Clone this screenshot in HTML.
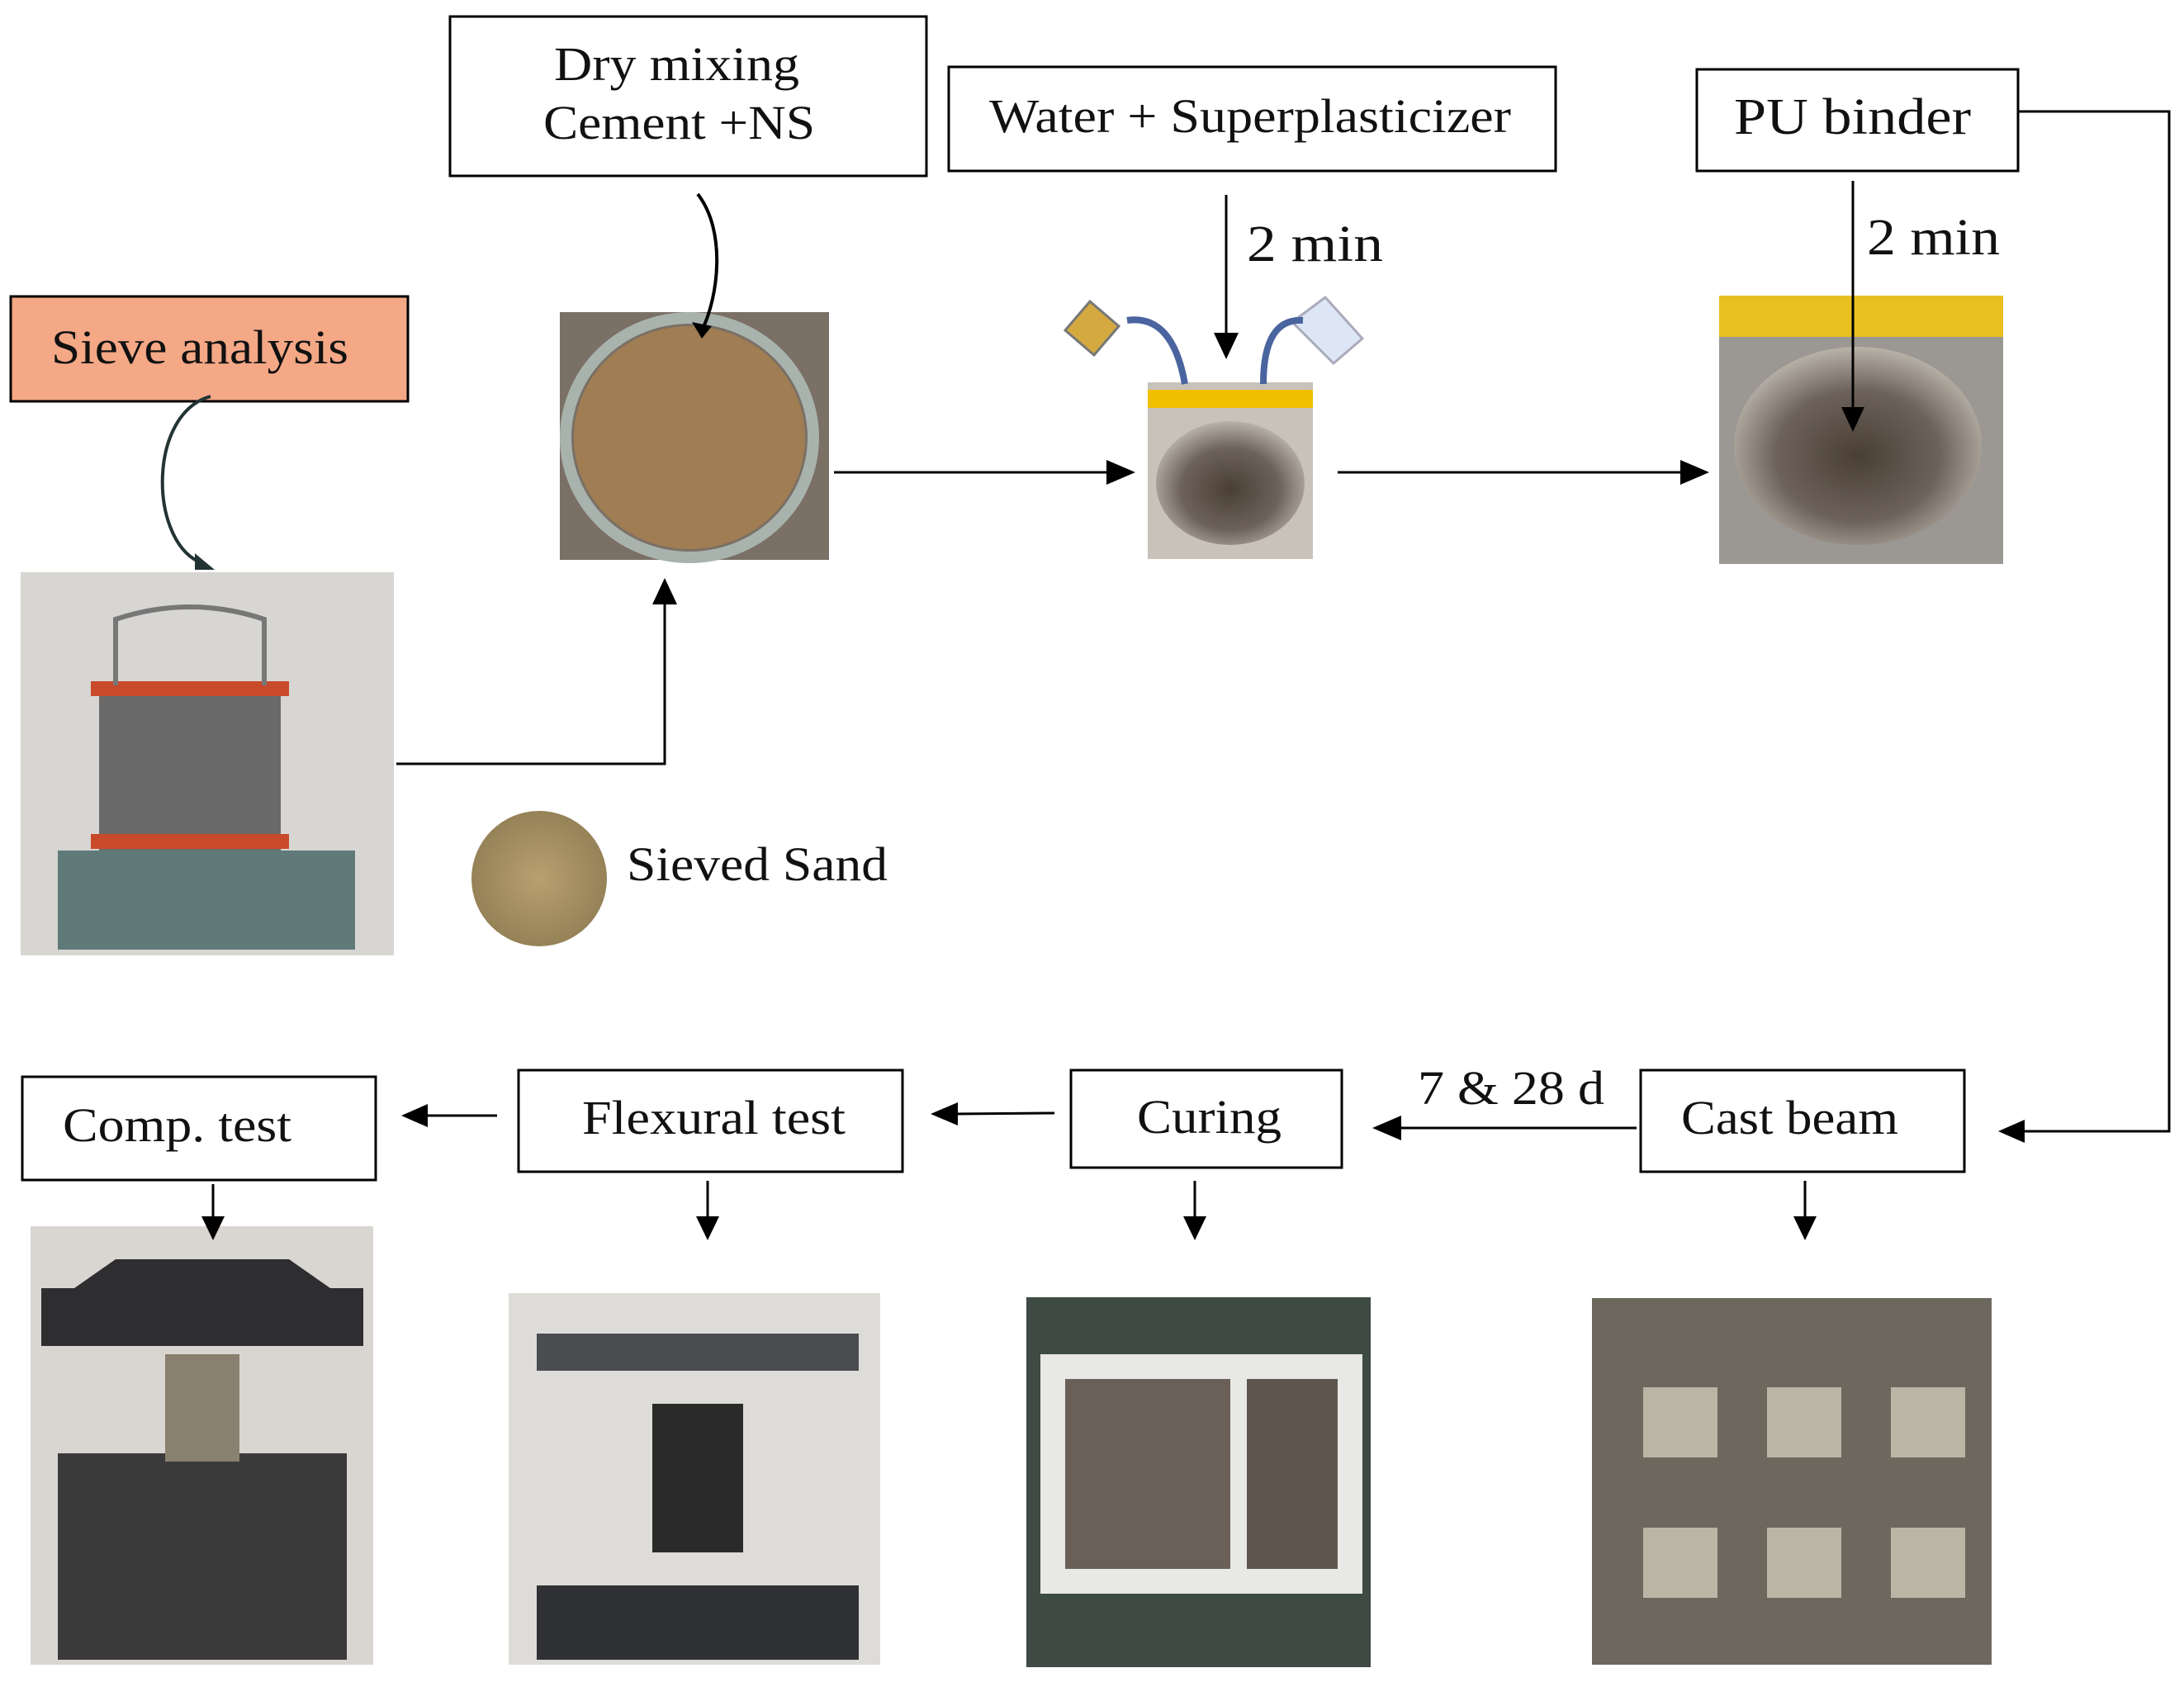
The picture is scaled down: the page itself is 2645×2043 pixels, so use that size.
<!DOCTYPE html>
<html><head><meta charset="utf-8"><style>
html,body{margin:0;padding:0;background:#fff;width:2645px;height:2043px;overflow:hidden}
svg{display:block}
text{font-family:"Liberation Serif",serif;fill:#111}
</style></head><body>
<svg width="2645" height="2043" viewBox="0 0 2645 2043" xmlns="http://www.w3.org/2000/svg">
<defs>
<radialGradient id="bowl" cx="50%" cy="55%" r="55%"><stop offset="0" stop-color="#4a3f35"/><stop offset="0.6" stop-color="#6d625a"/><stop offset="1" stop-color="#b8b2a8"/></radialGradient>
<radialGradient id="sand" cx="50%" cy="50%" r="60%"><stop offset="0" stop-color="#b8a070"/><stop offset="1" stop-color="#8f7c52"/></radialGradient>
</defs>
<g fill="none" stroke="#000" stroke-width="3">
<rect x="13" y="359" width="481" height="127" fill="#f4a886"/>
<rect x="545" y="20" width="577" height="193" fill="#fff"/>
<rect x="1149" y="81" width="735" height="126" fill="#fff"/>
<rect x="2055" y="84" width="389" height="123" fill="#fff"/>
<rect x="27" y="1304" width="428" height="125" fill="#fff"/>
<rect x="628" y="1296" width="465" height="123" fill="#fff"/>
<rect x="1297" y="1296" width="328" height="118" fill="#fff"/>
<rect x="1987" y="1296" width="392" height="123" fill="#fff"/>
</g>
<rect x="25" y="693" width="452" height="464" fill="#d8d6d2"/>
<rect x="70" y="1030" width="360" height="120" fill="#5f7a78"/>
<rect x="120" y="830" width="220" height="200" fill="#6a6a6a"/>
<rect x="110" y="825" width="240" height="18" fill="#c84a2a"/>
<rect x="110" y="1010" width="240" height="18" fill="#c84a2a"/>
<path d="M140 830 L140 750 Q230 720 320 750 L320 830" fill="none" stroke="#777" stroke-width="6"/>
<rect x="678" y="378" width="326" height="300" fill="#7a7066"/>
<ellipse cx="835" cy="530" rx="140" ry="135" fill="#a07d52"/>
<ellipse cx="835" cy="530" rx="150" ry="145" fill="none" stroke="#a9b3ad" stroke-width="14"/>
<rect x="1390" y="463" width="200" height="214" fill="#c9c2ba"/>
<rect x="1390" y="472" width="200" height="22" fill="#f0c000"/>
<ellipse cx="1490" cy="585" rx="90" ry="75" fill="url(#bowl)"/>
<!-- pouring icons -->
<path d="M1290 400 L1320 365 L1355 395 L1325 430Z" fill="#d4aa40" stroke="#777" stroke-width="3"/>
<path d="M1565 390 L1605 360 L1650 410 L1615 440Z" fill="#dde6f4" stroke="#aab" stroke-width="3"/>
<path d="M1365 388 Q1420 380 1435 465" fill="none" stroke="#4a64a0" stroke-width="8"/>
<path d="M1578 388 Q1530 385 1530 465" fill="none" stroke="#4a64a0" stroke-width="8"/>
<rect x="2082" y="358" width="344" height="325" fill="#9b9893"/>
<rect x="2082" y="358" width="344" height="50" fill="#e8c020"/>
<ellipse cx="2250" cy="540" rx="150" ry="120" fill="url(#bowl)"/>
<ellipse cx="653" cy="1064" rx="82" ry="82" fill="url(#sand)"/>
<rect x="37" y="1485" width="415" height="531" fill="#d9d6d2"/>
<rect x="50" y="1560" width="390" height="70" fill="#2e2e30"/>
<path d="M90 1560 L140 1525 L350 1525 L400 1560Z" fill="#2e2e30"/>
<rect x="70" y="1760" width="350" height="250" fill="#3a3a3a"/>
<rect x="200" y="1640" width="90" height="130" fill="#8a8070"/>
<rect x="616" y="1566" width="450" height="450" fill="#dedcd8"/>
<rect x="650" y="1615" width="390" height="45" fill="#4a4c50"/>
<rect x="650" y="1920" width="390" height="90" fill="#2f3135"/>
<rect x="790" y="1700" width="110" height="180" fill="#2a2a2a"/>
<rect x="1243" y="1571" width="417" height="448" fill="#3e4a44"/>
<rect x="1260" y="1640" width="390" height="290" fill="#e8e8e6"/>
<rect x="1290" y="1670" width="200" height="230" fill="#6a6058"/>
<rect x="1510" y="1670" width="110" height="230" fill="#5e564e"/>
<rect x="1928" y="1572" width="484" height="444" fill="#6c685e"/>
<g fill="#bbb5a5"><rect x="1990" y="1680" width="90" height="85"/><rect x="2140" y="1680" width="90" height="85"/><rect x="2290" y="1680" width="90" height="85"/><rect x="1990" y="1850" width="90" height="85"/><rect x="2140" y="1850" width="90" height="85"/><rect x="2290" y="1850" width="90" height="85"/></g>
<g fill="none" stroke="#000" stroke-width="3">
<polyline points="480,925 805,925 805,730"/>
<line x1="1010" y1="572" x2="1345" y2="572"/>
<line x1="1620" y1="572" x2="2040" y2="572"/>
<line x1="1485" y1="236" x2="1485" y2="405"/>
<line x1="2244" y1="219" x2="2244" y2="495"/>
<polyline points="2444,135 2627,135 2627,1370 2450,1370"/>
<line x1="1982" y1="1366" x2="1695" y2="1366"/>
<line x1="1277" y1="1348" x2="1155" y2="1349"/>
<line x1="602" y1="1351" x2="515" y2="1351"/>
<line x1="258" y1="1434" x2="258" y2="1475"/>
<line x1="857" y1="1430" x2="857" y2="1475"/>
<line x1="1447" y1="1430" x2="1447" y2="1475"/>
<line x1="2186" y1="1430" x2="2186" y2="1475"/>
<path d="M845 235 C880 280 870 360 850 400" stroke-width="4"/>
<path d="M255 480 C180 500 180 650 240 680" stroke="#233" stroke-width="4"/>
</g>
<g fill="#000">
<path d="M805 700 L790 732 L820 732Z"/>
<path d="M1375 572 L1340 557 L1340 587Z"/>
<path d="M2070 572 L2035 557 L2035 587Z"/>
<path d="M1485 435 L1470 403 L1500 403Z"/>
<path d="M2244 523 L2230 493 L2258 493Z"/>
<path d="M2420 1370 L2452 1356 L2452 1384Z"/>
<path d="M1662 1366 L1697 1351 L1697 1381Z"/>
<path d="M1127 1349 L1160 1335 L1160 1363Z"/>
<path d="M486 1351 L518 1337 L518 1365Z"/>
<path d="M258 1502 L244 1473 L272 1473Z"/>
<path d="M857 1502 L843 1473 L871 1473Z"/>
<path d="M1447 1502 L1433 1473 L1461 1473Z"/>
<path d="M2186 1502 L2172 1473 L2200 1473Z"/>
<path d="M850 410 L838 390 L862 395Z"/>
<path d="M260 690 L236 670 L236 690Z" fill="#233"/>
</g>
<g font-size="58" lengthAdjust="spacingAndGlyphs">
<text x="62" y="440" textLength="360" lengthAdjust="spacingAndGlyphs">Sieve analysis</text>
<text x="671" y="97" textLength="297" lengthAdjust="spacingAndGlyphs">Dry mixing</text>
<text x="658" y="168" textLength="329" lengthAdjust="spacingAndGlyphs">Cement +NS</text>
<text x="1198" y="160" textLength="632" lengthAdjust="spacingAndGlyphs">Water + Superplasticizer</text>
<text x="2100" y="162" font-size="62" textLength="287" lengthAdjust="spacingAndGlyphs">PU binder</text>
<text x="1510" y="316" font-size="62" textLength="165" lengthAdjust="spacingAndGlyphs">2 min</text>
<text x="2261" y="308" font-size="62" textLength="161" lengthAdjust="spacingAndGlyphs">2 min</text>
<text x="759" y="1066" textLength="316" lengthAdjust="spacingAndGlyphs">Sieved Sand</text>
<text x="76" y="1382" textLength="277" lengthAdjust="spacingAndGlyphs">Comp. test</text>
<text x="705" y="1373" textLength="319" lengthAdjust="spacingAndGlyphs">Flexural test</text>
<text x="1377" y="1372" textLength="175" lengthAdjust="spacingAndGlyphs">Curing</text>
<text x="2036" y="1373" textLength="263" lengthAdjust="spacingAndGlyphs">Cast beam</text>
<text x="1717" y="1337" textLength="226" lengthAdjust="spacingAndGlyphs">7 &amp; 28 d</text>
</g>
</svg>
</body></html>
